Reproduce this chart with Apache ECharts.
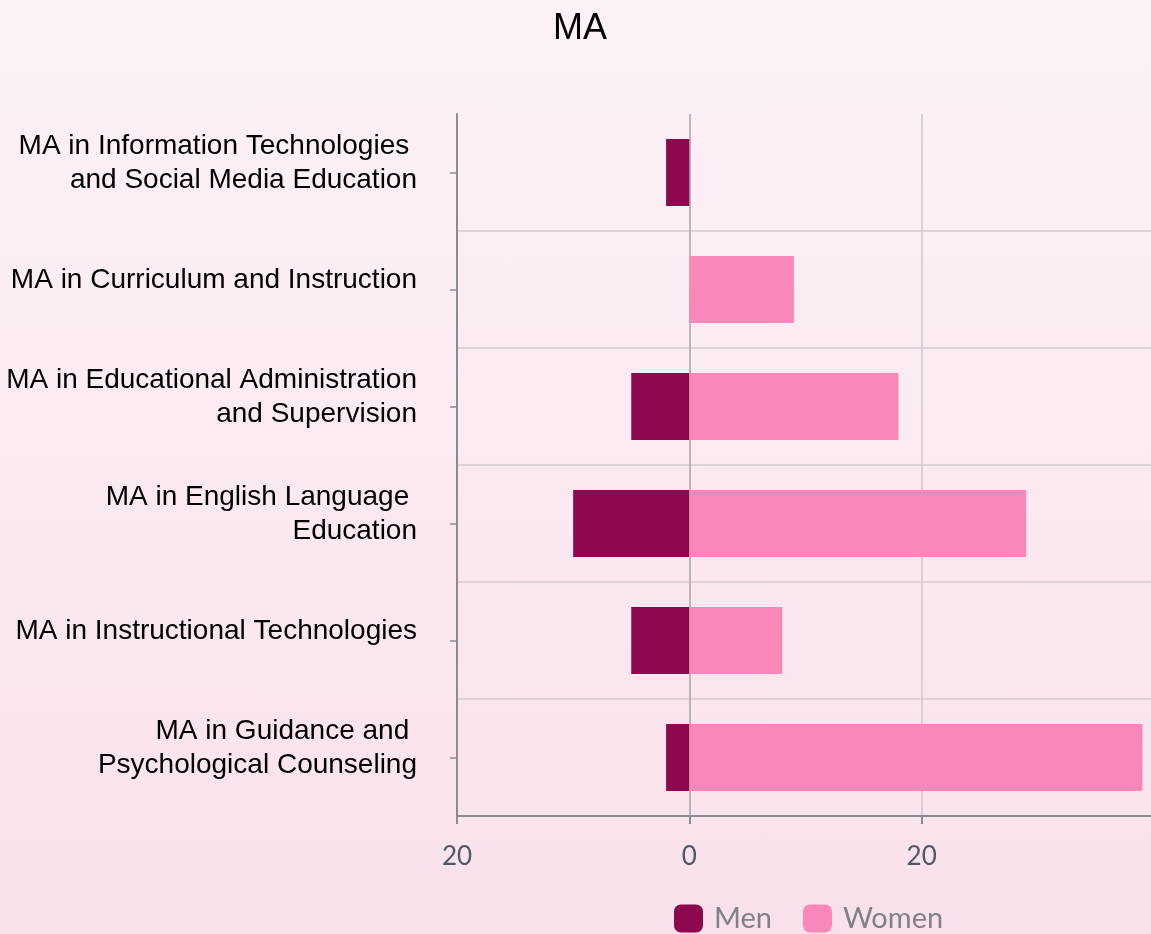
<!DOCTYPE html>
<html>
<head>
<meta charset="utf-8">
<script src="https://cdn.jsdelivr.net/npm/echarts@6/dist/echarts.min.js"></script>
<style>
  html, body { margin: 0; padding: 0; }
  body { background: linear-gradient(to bottom, #fcf2f7, #f9e1ec); }
  #main { width: 1151px; height: 934px; }
</style>
</head>
<body>
<div id="main"></div>
<script>
// 专业名称
const programs = [
  'MA in Information Technologies \nand Social Media Education',
  'MA in Curriculum and Instruction',
  'MA in Educational Administration\nand Supervision',
  'MA in English Language \nEducation',
  'MA in Instructional Technologies',
  'MA in Guidance and \nPsychological Counseling'
]
// 男生人数（负数画在左边，没有的用 null）
const men = [-2, null, -5, -10, -5, -2]
// 女生人数
const women = [null, 9, 18, 29, 8, 39]

const myChart = echarts.init(document.getElementById('main'))

const option = {
  backgroundColor: 'transparent',
  title: {
    text: 'MA',
    left: 548,
    top: 6,
    textStyle: { fontFamily: 'Liberation Sans', fontSize: 36, fontWeight: 'normal', color: '#000' }
  },
  legend: {
    left: 669,
    top: 899,
    itemWidth: 29,
    itemHeight: 28,
    itemGap: 31,
    textStyle: { fontFamily: 'Lato', fontSize: 29, color: '#80808a', padding: [0, 0, 0, 6] },
    data: [
      { name: 'Men', icon: 'roundRect' },
      { name: 'Women', icon: 'roundRect' }
    ]
  },
  grid: { left: 457, right: -3, top: 114, bottom: 118, outerBoundsMode: 'none' },
  xAxis: {
    type: 'value',
    min: -20,
    max: 40,
    interval: 20,
    axisLine: { show: true, lineStyle: { color: '#8c8c8c', width: 2 } },
    axisTick: { show: true, length: 8, lineStyle: { color: '#8c8c8c', width: 2 } },
    axisLabel: {
      margin: 28,
      fontFamily: 'Lato',
      fontSize: 26,
      color: '#4f5866',
      showMaxLabel: false,
      formatter: (v) => Math.abs(v)
    },
    splitLine: { show: true, lineStyle: { color: ['#8c8c8c', '#a9a2a7', '#cfc6cc', '#cfc6cc'], width: 1.5 } }
  },
  yAxis: {
    type: 'category',
    inverse: true,
    data: programs,
    axisLine: { show: true, onZero: false, lineStyle: { color: '#8c8c8c', width: 2 } },
    axisTick: { show: true, alignWithLabel: true, length: 7, lineStyle: { color: '#8c8c8c', width: 1.5 } },
    axisLabel: {
      margin: 40,
      fontFamily: 'Liberation Sans',
      fontSize: 28,
      lineHeight: 34,
      color: '#000',
      align: 'right',
      // 多加一行空白，把文字整体往上推一点
      formatter: (v) => v + '\n{s| }',
      rich: { s: { fontSize: 2, lineHeight: 18 } }
    },
    splitLine: {
      show: true,
      interval: (i) => i !== 0,
      lineStyle: { color: '#d4cbd0', width: 1.5 }
    }
  },
  series: [
    {
      name: 'Men',
      type: 'bar',
      stack: 'total',
      barWidth: 67,
      itemStyle: { color: '#8e084f' },
      data: men
    },
    {
      name: 'Women',
      type: 'bar',
      stack: 'total',
      barWidth: 67,
      itemStyle: { color: '#f788b9' },
      data: women
    }
  ]
}

myChart.setOption(option)
</script>
</body>
</html>
